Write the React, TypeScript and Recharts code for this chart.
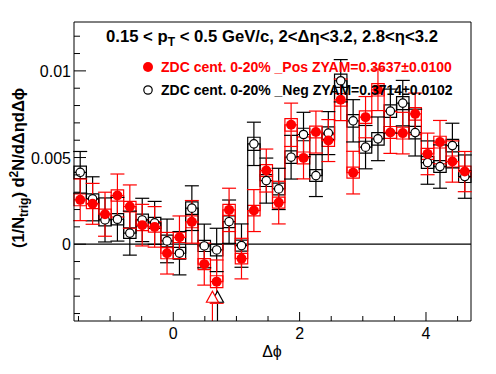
import React from 'react';
import { ComposedChart, Scatter, Line, XAxis, YAxis, ErrorBar, ReferenceArea, ReferenceLine } from 'recharts';

// 32 delta-phi bins, width pi/16, centres
const dphi = [
  -1.4726, -1.2763, -1.0799, -0.8836, -0.6872, -0.4909, -0.2945, -0.0982,
  0.0982, 0.2945, 0.4909, 0.6872, 0.8836, 1.0799, 1.2763, 1.4726,
  1.669, 1.8653, 2.0617, 2.258, 2.4544, 2.6507, 2.8471, 3.0434,
  3.2398, 3.4361, 3.6325, 3.8288, 4.0252, 4.2215, 4.4179, 4.6142,
];
const BIN = Math.PI / 16;

const posVal = [
  0.00256, 0.00233, 0.00173, 0.00281, 0.00217, 0.0011, 0.001, -0.00052,
  0.0004, 0.00129, -0.00115, -0.00216, 0.00198, -0.00083, 0.00194, 0.00425,
  0.0024, 0.00689, 0.00498, 0.00647, 0.00598, 0.00833, 0.00413, 0.00733,
  0.00891, 0.00645, 0.00641, 0.00752, 0.00521, 0.00589, 0.00477, 0.00419,
];
const posErr = [
  0.0012, 0.00118, 0.00127, 0.00124, 0.00125, 0.0012, 0.00117, 0.0012,
  0.00123, 0.00123, 0.00121, 0.00125, 0.00125, 0.00117, 0.00121, 0.00124,
  0.00123, 0.00125, 0.00121, 0.00121, 0.00121, 0.0012, 0.00123, 0.00119,
  0.0012, 0.00121, 0.0012, 0.0012, 0.0012, 0.00125, 0.00119, 0.00116,
];
const posSys = [
  0.00034, 0.00028, 0.0003, 0.00032, 0.0003, 0.00032, 0.0003, 0.00032,
  0.0003, 0.00034, 0.00032, 0.00034, 0.00032, 0.0003, 0.0003, 0.00034,
  0.00032, 0.00036, 0.00034, 0.00034, 0.00034, 0.00036, 0.00032, 0.00036,
  0.00036, 0.00034, 0.00034, 0.00036, 0.00032, 0.00034, 0.00032, 0.00032,
];

const negVal = [
  0.00415, 0.00262, 0.0014, 0.00144, 0.00064, 0.0014, 0.00123, 0.00019,
  -0.00052, 0.00208, -0.0001, -0.00033, 0.0013, -0.00008, 0.00579, 0.00367,
  0.00319, 0.00502, 0.00633, 0.00396, 0.00641, 0.00943, 0.00712, 0.0056,
  0.00608, 0.00768, 0.00814, 0.00644, 0.00471, 0.00448, 0.00569, 0.0039,
];
const negErr = [
  0.0012, 0.00127, 0.00127, 0.00126, 0.00127, 0.00125, 0.00124, 0.00126,
  0.00125, 0.00129, 0.00126, 0.00125, 0.00125, 0.00125, 0.00125, 0.0013,
  0.00119, 0.00126, 0.00128, 0.00121, 0.00124, 0.00122, 0.00122, 0.00125,
  0.00126, 0.00127, 0.00131, 0.00135, 0.00125, 0.00125, 0.00129, 0.00125,
];
const negSys = [
  0.00036, 0.00028, 0.00034, 0.00032, 0.0003, 0.00034, 0.00032, 0.00034,
  0.00034, 0.00036, 0.00032, 0.00034, 0.00034, 0.00032, 0.00038, 0.00034,
  0.00034, 0.00036, 0.00036, 0.00034, 0.00036, 0.00038, 0.00036, 0.00034,
  0.00036, 0.00036, 0.00038, 0.00036, 0.00034, 0.00034, 0.00036, 0.00034,
];

// points pushed below the frame edge, drawn as open triangles
const posLow = [{ x: 0.62, y: -0.00303 }];
const negLow = [{ x: 0.7, y: -0.00303 }];

const X_MIN = -Math.PI / 2;
const X_MAX = (3 * Math.PI) / 2;
const Y_MIN = -0.00443;
const Y_MAX = 0.01282;

const xMajor = [0, 2, 4];
const xTicks = [-1.5, -1, -0.5, 0, 0.5, 1, 1.5, 2, 2.5, 3, 3.5, 4, 4.5];
const yMajor = [0, 0.005, 0.01];
const yLabels = ['0', '0.005', '0.01'];
const yTicks = [
  -0.004, -0.003, -0.002, -0.001, 0, 0.001, 0.002, 0.003, 0.004, 0.005,
  0.006, 0.007, 0.008, 0.009, 0.01, 0.011, 0.012,
];

const FONT = '"Liberation Sans", Arial, Helvetica, sans-serif';
const RED = '#ff0000';

const points = (val: number[], err: number[]) => dphi.map((x, i) => ({ x, y: val[i], err: err[i] }));
const steps = (val: number[]) => [
  ...dphi.map((x, i) => ({ x: x - BIN / 2, y: val[i] })),
  { x: dphi[dphi.length - 1] + BIN / 2, y: val[val.length - 1] },
];

const XTick = (p: any) => {
  const { x, y, payload } = p;
  const major = xMajor.includes(payload.value);
  return (
    <g>
      <line x1={x} x2={x} y1={y} y2={y - (major ? 9 : 5)} stroke="#000" />
      {major && (
        <text x={x} y={y + 18} textAnchor="middle" fontSize={16} fontFamily={FONT} fill="#000">
          {payload.value}
        </text>
      )}
    </g>
  );
};

const YTick = (p: any) => {
  const { x, y, payload } = p;
  const idx = yMajor.indexOf(payload.value);
  return (
    <g>
      <line x1={x} x2={x + (idx >= 0 ? 12 : 6)} y1={y} y2={y} stroke="#000" />
      {idx >= 0 && (
        <text x={x - 3} y={y + 6} textAnchor="end" fontSize={16} fontFamily={FONT} fill="#000">
          {yLabels[idx]}
        </text>
      )}
    </g>
  );
};

const RedDot = (p: any) => <circle cx={p.cx} cy={p.cy} r={5} fill={RED} />;
const OpenCircle = (p: any) => <circle cx={p.cx} cy={p.cy} r={4.2} fill="#fff" stroke="#000" strokeWidth={1.2} />;
const Tri = (color: string) => (p: any) => (
  <polygon
    points={`${p.cx - 6},${p.cy + 5.5} ${p.cx + 6},${p.cy + 5.5} ${p.cx},${p.cy - 5.5}`}
    fill="#fff"
    stroke={color}
    strokeWidth={1.2}
  />
);

const boxes = (val: number[], sys: number[], color: string, key: string) =>
  dphi.map((x, i) => (
    <ReferenceArea
      key={key + i}
      x1={x - BIN / 2}
      x2={x + BIN / 2}
      y1={val[i] - sys[i]}
      y2={val[i] + sys[i]}
      fill="none"
      fillOpacity={0}
      stroke={color}
      strokeWidth={1.2}
    />
  ));

export default function App() {
  return (
    <div style={{ position: 'absolute', left: 0, top: 0, width: 496, height: 374, background: '#fff' }}>
      <ComposedChart width={496} height={374} margin={{ top: 22, right: 25, bottom: 0, left: 0 }}>
        <XAxis
          type="number"
          dataKey="x"
          domain={[X_MIN, X_MAX]}
          allowDataOverflow
          ticks={xTicks}
          interval={0}
          tick={<XTick />}
          tickSize={0}
          tickMargin={0}
          tickLine={false}
          height={53}
          axisLine={{ stroke: '#000' }}
        />
        <YAxis
          type="number"
          dataKey="y"
          domain={[Y_MIN, Y_MAX]}
          allowDataOverflow
          ticks={yTicks}
          interval={0}
          tick={<YTick />}
          tickSize={0}
          tickMargin={0}
          tickLine={false}
          width={74}
          axisLine={{ stroke: '#000' }}
        />
        <ReferenceLine y={Y_MAX} stroke="#000" />
        <ReferenceLine x={X_MAX} stroke="#000" />
        <ReferenceLine y={0} stroke="#000" strokeWidth={1.2} />

        {boxes(negVal, negSys, '#000', 'nb')}
        <Line data={steps(negVal)} dataKey="y" type="stepAfter" stroke="#000" strokeWidth={1.2} dot={false} isAnimationActive={false} />
        {boxes(posVal, posSys, RED, 'pb')}
        <Line data={steps(posVal)} dataKey="y" type="stepAfter" stroke={RED} strokeWidth={1.2} dot={false} isAnimationActive={false} />

        <ReferenceLine segment={[{ x: negLow[0].x, y: -0.00345 }, { x: negLow[0].x, y: Y_MIN }]} stroke="#000" strokeWidth={1.2} />
        <ReferenceLine segment={[{ x: posLow[0].x, y: -0.00345 }, { x: posLow[0].x, y: Y_MIN }]} stroke={RED} strokeWidth={1.2} />

        <Scatter data={points(negVal, negErr)} shape={<OpenCircle />} isAnimationActive={false}>
          <ErrorBar dataKey="err" direction="y" width={7} stroke="#000" strokeWidth={1.2} />
        </Scatter>
        <Scatter data={points(posVal, posErr)} shape={<RedDot />} isAnimationActive={false}>
          <ErrorBar dataKey="err" direction="y" width={7} stroke={RED} strokeWidth={1.2} />
        </Scatter>
        <Scatter data={negLow} shape={Tri('#000')} isAnimationActive={false} />
        <Scatter data={posLow} shape={Tri(RED)} isAnimationActive={false} />
      </ComposedChart>

      <svg width={496} height={374} style={{ position: 'absolute', left: 0, top: 0, pointerEvents: 'none' }}>
        <text x={272} y={42} textAnchor="middle" fontSize={16.7} fontWeight="bold" fontFamily={FONT}>
          0.15 &lt; p<tspan fontSize={12} dy={4}>T</tspan>
          <tspan dy={-4}> &lt; 0.5 GeV/c, 2&lt;Δη&lt;3.2, 2.8&lt;η&lt;3.2</tspan>
        </text>
        <circle cx={148} cy={67} r={5} fill={RED} />
        <text x={161} y={72} fontSize={14} fontWeight="bold" fontFamily={FONT} fill={RED}>
          ZDC cent. 0-20% _Pos ZYAM=0.3637±0.0100
        </text>
        <circle cx={148} cy={90} r={4.2} fill="none" stroke="#000" strokeWidth={1.2} />
        <text x={161} y={95} fontSize={14} fontWeight="bold" fontFamily={FONT} fill="#000">
          ZDC cent. 0-20% _Neg ZYAM=0.3714±0.0102
        </text>
        <text
          transform="translate(24,168) rotate(-90)"
          textAnchor="middle"
          fontSize={16.5}
          fontWeight="bold"
          fontFamily={FONT}
        >
          (1/N<tspan fontSize={12} dy={4}>trig</tspan>
          <tspan dy={-4}>) d</tspan>
          <tspan fontSize={12} dy={-6}>2</tspan>
          <tspan dy={6}>N/dΔηdΔϕ</tspan>
        </text>
        <text x={272} y={357} textAnchor="middle" fontSize={16} fontFamily={FONT}>
          Δϕ
        </text>
      </svg>
    </div>
  );
}
